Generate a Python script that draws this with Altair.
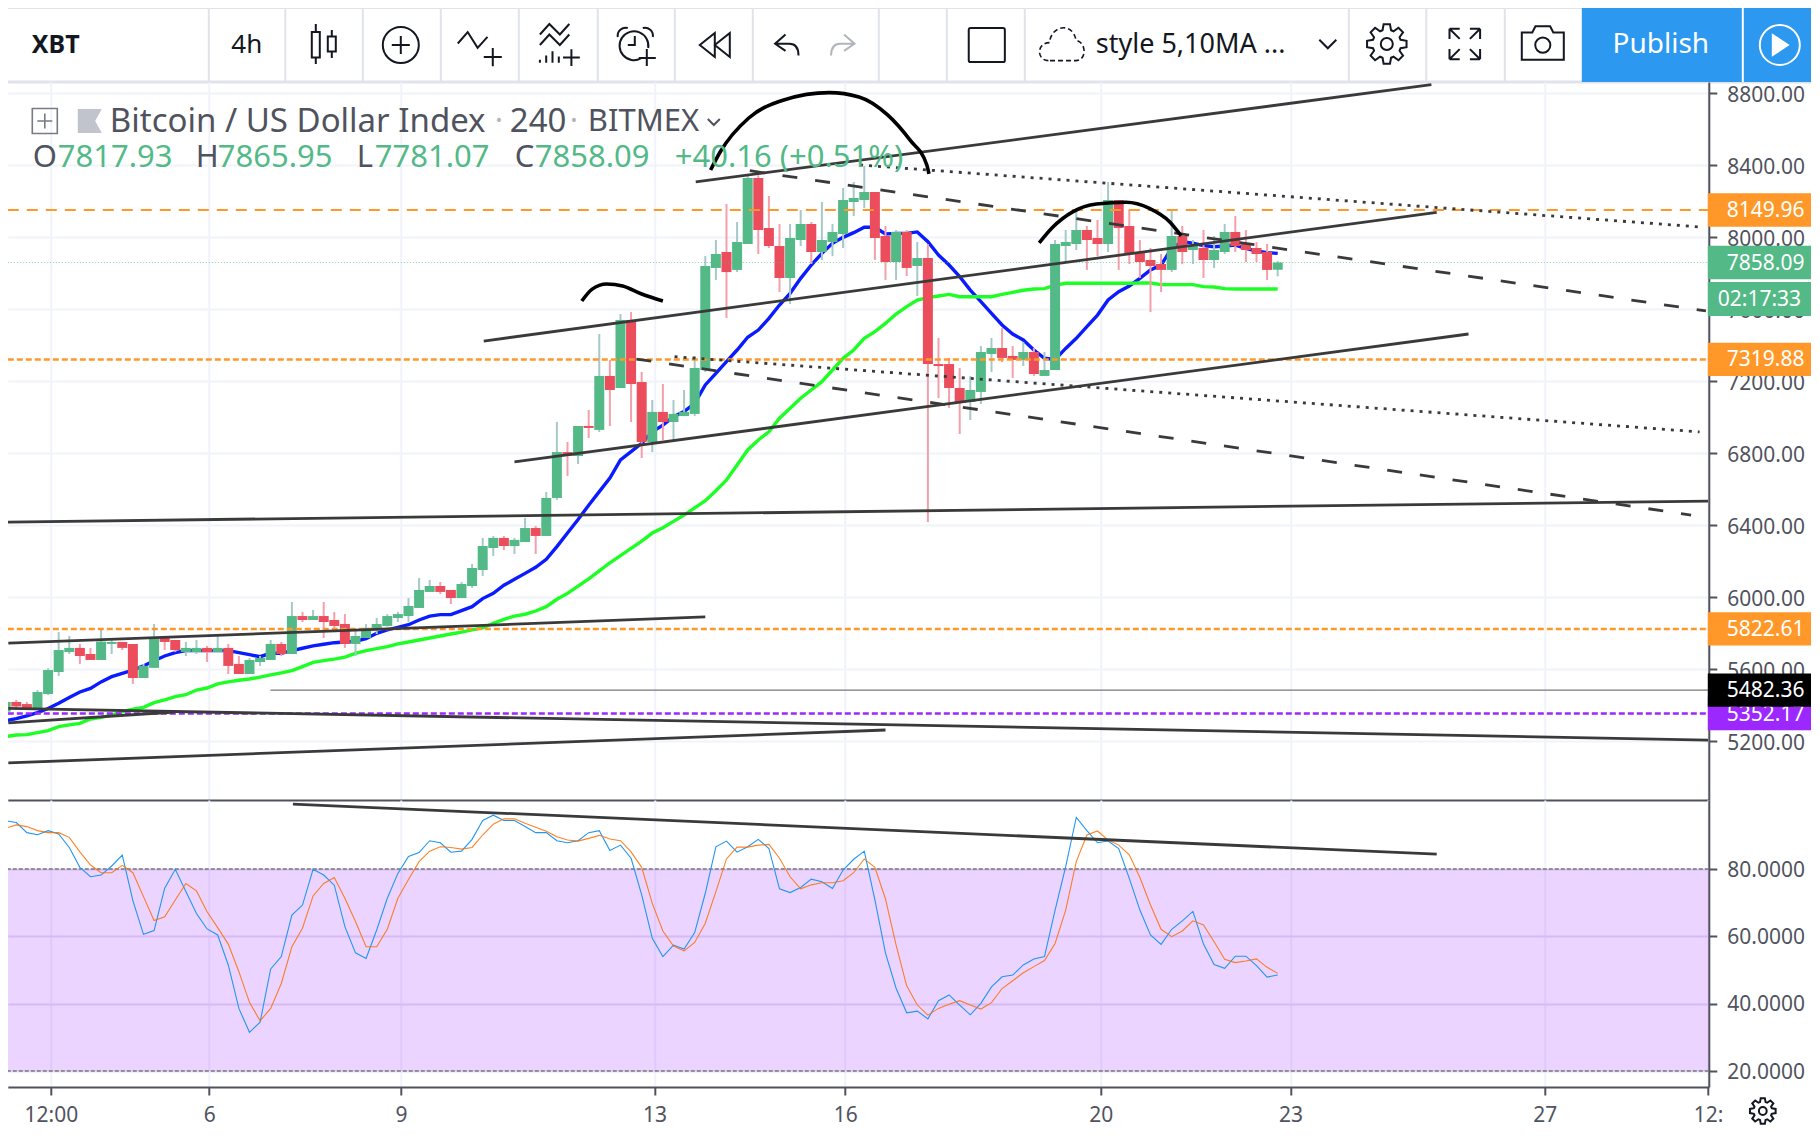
import math
import altair as alt
import pandas as pd

FONT = "Noto Sans"
INK = "#131722"
TXT = "#50535e"
UP = "#53b987"
DOWN = "#eb4d5c"

# ---- candles, first bar index -19 (day "6" sits at index 0)
first_bar = -19
opens = [5363,5417,5405,5383,5461,5583,5694,5717,5683,5650,
 5739,5750,5739,5550,5606,5772,5761,5694,5694,5717,
 5694,5717,5628,5572,5639,5650,5739,5683,5894,5872,
 5894,5872,5850,5739,5772,5817,5839,5883,5894,5939,
 6028,6061,6039,5994,6061,6150,6272,6328,6283,6305,
 6383,6339,6550,6805,6783,6950,6928,7228,7161,7539,
 7194,6861,7028,6972,7005,7017,7261,7828,7917,7817,
 7961,8328,8050,7950,7772,7983,8072,7917,7972,8017,
 8194,8206,8250,8005,7861,8028,7839,7883,7294,7294,
 7161,7083,7139,7350,7383,7339,7317,7361,7228,7261,
 7950,7961,8039,7994,7961,8206,8061,7917,7872,7850,
 7817,8005,7928,7939,7872,7917,8028,7961,7939,7917,7817.93]
closes = [5417,5391,5383,5472,5594,5705,5717,5672,5650,5752,
 5750,5717,5550,5617,5772,5750,5705,5717,5717,5694,
 5717,5617,5572,5650,5661,5739,5683,5894,5872,5894,
 5861,5839,5739,5783,5828,5850,5894,5905,5950,6039,
 6061,6028,5994,6072,6161,6283,6328,6283,6317,6383,
 6339,6550,6805,6783,6950,6939,7228,7150,7539,7183,
 6861,7028,6972,7017,7028,7272,7839,7905,7805,7972,
 8328,8039,7950,7772,7994,8072,7917,7983,8028,8206,
 8217,8250,7994,7861,8028,7828,7883,7294,7283,7161,
 7083,7150,7361,7383,7328,7317,7361,7239,7261,7961,
 7972,8039,7983,7961,8206,8050,7905,7861,7839,7817,
 8005,7917,7950,7872,7928,8028,7950,7928,7905,7817,7858.09]
highs = [5428,5428,5417,5483,5604,5805,5783,5739,5717,5828,
 5772,5750,5739,5628,5850,5783,5761,5750,5761,5728,
 5783,5739,5672,5661,5672,5761,5750,5972,5917,5928,
 5972,5917,5905,5817,5850,5883,5905,5917,5994,6105,
 6094,6083,6039,6083,6183,6328,6339,6339,6328,6439,
 6394,6583,6972,6861,6950,7039,7461,7317,7572,7583,
 7250,7094,7183,7094,7150,7339,7894,7983,8183,8083,
 8340,8343,8228,8072,8072,8150,8083,8194,8072,8272,
 8306,8394,8250,8061,8039,8039,7972,7961,7439,7328,
 7272,7228,7394,7439,7494,7394,7417,7383,7361,7983,
 8039,8161,8061,8094,8306,8206,8150,7983,7939,7905,
 8150,8061,7983,8039,8005,8072,8117,8039,7972,7961,7865.95]
lows = [5354,5372,5372,5372,5455,5561,5683,5628,5650,5650,
 5683,5705,5517,5550,5606,5705,5694,5672,5683,5639,
 5694,5572,5572,5572,5617,5650,5672,5683,5861,5872,
 5772,5805,5717,5672,5772,5794,5835,5861,5861,5939,
 6028,6017,5961,5994,6050,6117,6228,6261,6239,6305,
 6239,6339,6539,6672,6739,6883,6916,6950,7161,6972,
 6772,6805,6872,6872,7005,7005,7250,7761,7550,7805,
 7961,7905,7939,7694,7628,7950,7850,7872,7894,7939,
 8117,8161,7872,7761,7761,7783,7672,6417,7105,7050,
 6905,6983,7072,7250,7305,7217,7283,7228,7228,7261,
 7861,7928,7817,7894,7917,7817,7850,7772,7583,7694,
 7805,7850,7850,7772,7828,7905,7917,7861,7861,7761,7781.07]
ma_blue = [5313,5324,5339,5357,5380,5409,5442,5472,5492,5528,
 5557,5576,5594,5617,5646,5672,5691,5702,5702,5702,
 5702,5702,5691,5680,5668,5687,5687,5702,5715,5728,
 5737,5746,5750,5754,5768,5798,5817,5831,5846,5872,
 5894,5902,5902,5924,5946,5991,6020,6065,6098,6131,
 6165,6209,6280,6355,6430,6510,6585,6661,6761,6807,
 6854,6918,6955,7002,7030,7076,7178,7242,7307,7372,
 7443,7483,7548,7622,7687,7770,7844,7909,7965,7998,
 8024,8054,8054,8017,8020,8020,8028,7974,7900,7844,
 7780,7705,7641,7576,7511,7461,7428,7372,7326,7320,
 7381,7437,7502,7566,7650,7696,7728,7770,7817,7844,
 7937,7974,7965,7952,7946,7950,7955,7937,7922,7913,7909]
ma_green = [5224,5233,5235,5246,5257,5280,5289,5298,5322,5331,
 5344,5363,5376,5387,5413,5428,5446,5457,5483,5494,
 5517,5528,5537,5544,5555,5567,5578,5591,5613,5637,
 5646,5655,5666,5687,5702,5713,5724,5739,5750,5761,
 5772,5783,5794,5805,5817,5828,5854,5876,5894,5904,
 5922,5946,5987,6020,6060,6100,6145,6190,6230,6270,
 6310,6355,6385,6420,6455,6495,6535,6590,6650,6733,
 6817,6872,6918,6993,7048,7104,7150,7196,7261,7326,
 7372,7437,7474,7520,7572,7613,7650,7663,7672,7681,
 7668,7668,7668,7668,7681,7692,7704,7711,7713,7733,
 7743,7743,7743,7743,7743,7743,7743,7744,7744,7735,
 7735,7735,7735,7724,7722,7713,7711,7711,7711,7711,7711]
stoch_k = [94.3,93.8,90.8,90.2,91.4,90.4,86.4,80.5,77.7,78.2,
 80.9,84.1,70.6,60.6,61.7,74.3,79.9,73.3,66.8,62.2,
 60.4,51.5,38.6,31.5,34.5,50.3,54.0,66.3,69.3,79.9,
 78.2,75.2,62.9,55.1,53.4,61.9,71.3,78.7,83.7,84.9,
 88.4,87.8,85.0,85.3,88.8,94.4,96.0,94.4,94.4,92.6,
 90.8,90.8,88.4,87.8,88.4,90.8,91.4,85.5,87.1,83.2,72.3,
 59.4,54,57.4,56.2,61.1,72.8,86.6,88.3,85,86.6,
 88.8,86.1,74.1,73,74.5,77,76.2,74.2,79.7,82.9,
 85.3,70.8,55,44.6,37.3,37.8,35.5,40.9,42.6,39.6,
 36.7,40.1,45,48,48.5,51.5,53.3,54,67.8,80.7,
 95.3,91.4,87.8,88.3,86.1,77.2,67.8,60.4,57.6,62.1,
 64.6,67.4,57.7,51.6,50.5,54.1,54.1,51.3,47.9,48.5]
stoch_d = [92.1,93.1,92.6,91.4,90.8,90.8,89.4,85.1,81.2,78.9,
 78.9,81.1,78.9,71.8,64.7,65.8,70.8,75.7,73.5,67.3,
 62.6,57.7,49.5,40.4,34.9,38.6,46,56.9,62.4,72,
 75.7,77.5,71.3,64.4,56.9,56.9,62.1,71.3,76.9,82.2,
 85.3,86.6,86.4,85.9,86.4,90.1,93.3,94.9,94.9,93.6,
 92.4,91.2,89.6,88.6,88.3,89.1,90,88.9,88.4,85.1,80.5,
 69.8,61.6,57.1,55.7,58.2,63.9,73.3,83,86.5,86.5,
 87.1,87.3,83.2,77.7,74.1,75.3,75.9,75.9,76.5,78.9,
 83,80.5,71.1,57.4,45.3,39.6,36.6,38.6,39.8,40.9,
 39.6,38.4,40.3,44.5,46.8,49.2,51,52.8,57.9,67.8,
 82.2,90.1,91.3,88.6,87.1,84.2,77.5,69.3,62.1,59.9,
 61.6,64.6,63.4,58.4,53.2,52.2,52.7,53.3,50.8,49]

# ---- drawings: (bar, price) end points
solid_lines = [
 [(46.1,8306),(115.5,8846)], [(26.1,7422),(116,8137)], [(29,6750),(119,7461)],
 [(-18.8,6416),(141.6,6533)], [(-18.75,5743),(47,5889)], [(-18.75,5381),(141.6,5205)],
 [(-18.75,5301),(-3.05,5361)], [(-18.75,5078),(64,5261)],
]
dashed_lines = [[(51.2,8368),(141.4,7589)], [(40.5,7322),(140,6455)]]
dotted_lines = [[(61.6,8400),(141,8055)], [(44.1,7335),(140.8,6917)]]
arcs = [
 [(47.5,8372),(48.4,8472),(51.1,8661),(54.4,8761),(58.7,8802),(61.5,8778),(64.2,8678),(66.3,8539),(67.9,8400),(68.1,8350)],
 [(35.35,7644),(36.3,7709),(37.7,7739),(39.2,7728),(41,7683),(43,7644)],
 [(78.5,7967),(79.7,8050),(81.7,8141),(83.9,8183),(86.7,8193),(88.9,8159),(90.8,8085),(91.9,8006)],
]
stoch_trend = [(8.1,99.3),(116,84.4)]

price_ticks = [5200 + 400*i for i in range(10)]
stoch_ticks = [20, 40, 60, 80]
time_ticks = [-14.74, 0.2, 18.3, 42.2, 60.2, 84.3, 102.2, 126.2, 141.6]
time_labels = ["12:00", "6", "9", "13", "16", "20", "23", "27", "12:"]
tags = [("8149.96", 8149.96, "#ff9828"), ("7858.09", 7858.09, UP), ("7319.88", 7319.88, "#ff9828"),
        ("5822.61", 5822.61, "#ff9828"), ("5352.17", 5352.17, "#9c27ff"), ("5482.36", 5482.36, "#000000")]

W = 1701
R = 1804
XD = [-18.8, 141.67]
xs = alt.Scale(domain=XD, nice=False, zero=False, padding=0)
ys = alt.Scale(domain=[4872, 8861], nice=False, zero=False)
ss = alt.Scale(domain=[15.25, 100.5], nice=False, zero=False)
PX = 5.556  # price per pixel, only for tag heights

bars = pd.DataFrame({"b": [first_bar+i for i in range(len(opens))], "o": opens, "h": highs, "l": lows, "c": closes,
                     "blue": ma_blue, "green": ma_green, "k": stoch_k, "d": stoch_d})
up = [c >= o for o, c in zip(opens, closes)]
bars["bc"] = [UP if u else DOWN for u in up]
bars["wc"] = ["#a5c9c7" if u else "#f3a0ab" for u in up]
bars["top"] = bars[["o", "c"]].max(axis=1)
bars["bot"] = bars[["o", "c"]].min(axis=1)

expr = "{" + ",".join(f"'{t}':'{l}'" for t, l in zip(time_ticks, time_labels)) + "}[datum.value] || ''"
x_top = alt.Axis(values=time_ticks, labels=False, ticks=False, grid=True, gridColor="#f0f3fa", gridWidth=2,
                 domainColor=TXT, domainWidth=2, title=None)
x_bot = alt.Axis(values=time_ticks, labelExpr=expr, grid=True, gridColor="#f0f3fa", gridWidth=2, domainColor=TXT,
                 domainWidth=2, tickColor=TXT, tickWidth=2, tickSize=8, labelFont=FONT, labelFontSize=21,
                 labelColor=TXT, labelPadding=10, labelFlush=False, labelOverlap=False, title=None)
y_axis = alt.Axis(orient="right", values=price_ticks, format=".2f", grid=True, gridColor="#f0f3fa", gridWidth=2,
                  domainColor=TXT, domainWidth=2, tickColor=TXT, tickWidth=2, tickSize=8, labelFont=FONT,
                  labelFontSize=21, labelColor=TXT, labelPadding=10, labelAlign="left", labelOverlap=False,
                  labelOffset=3, title=None)
s_axis = alt.Axis(orient="right", values=stoch_ticks, format=".4f", grid=True, gridColor="#e6e0f5", gridWidth=2,
                  domainColor=TXT, domainWidth=2, tickColor=TXT, tickWidth=2, tickSize=8, labelFont=FONT,
                  labelFontSize=21, labelColor=TXT, labelPadding=10, labelAlign="left", labelOverlap=False,
                  labelOffset=1, title=None)

X = alt.X("b:Q", scale=xs, axis=x_top)
X2 = alt.X("b:Q", scale=xs, axis=x_bot)
Yp = lambda f: alt.Y(f, scale=ys, axis=y_axis)
Ys = lambda f: alt.Y(f, scale=ss, axis=s_axis)


def text(s, x, y, size, color, align="left", weight="normal"):
    return alt.Chart(pd.DataFrame({"t": [s]})).mark_text(align=align, baseline="middle", font=FONT, fontSize=size,
                                                        color=color, fontWeight=weight).encode(
        x=alt.value(x), y=alt.value(y), text="t:N")


def icon(path, x, y, half, color=INK, width=2, fill=None, dash=None):
    kw = dict(shape=path, size=(2*half)**2, stroke=color, strokeWidth=width, opacity=1)
    kw.update(filled=True, fill=fill) if fill else kw.update(filled=False)
    if dash:
        kw["strokeDash"] = dash
    return alt.Chart(pd.DataFrame({"i": [0]})).mark_point(**kw).encode(x=alt.value(x), y=alt.value(y))


def vsep(x, y1=0, y2=74, color="#e0e3eb", width=2):
    return alt.Chart(pd.DataFrame({"i": [0]})).mark_rule(color=color, strokeWidth=width).encode(
        x=alt.value(x), y=alt.value(y1), y2=alt.value(y2))


def rect(x1, x2, y1, y2, color):
    return alt.Chart(pd.DataFrame({"i": [0]})).mark_rect(color=color).encode(
        x=alt.value(x1), x2=alt.value(x2), y=alt.value(y1), y2=alt.value(y2))


CIRC = "M-1,0A1,1 0 1 1 1,0A1,1 0 1 1 -1,0Z"


def gear_path():
    pts = []
    for k in range(8):
        a0 = k*math.pi/4
        for da, r in [(-0.30, 0.72), (-0.16, 1.0), (0.16, 1.0), (0.30, 0.72)]:
            pts.append((r*math.cos(a0+da), r*math.sin(a0+da)))
    d = "M" + "L".join(f"{px:.3f},{py:.3f}" for px, py in pts) + "Z"
    r = 0.3
    return d + f"M{-r},0A{r},{r} 0 1 1 {r},0A{r},{r} 0 1 1 {-r},0Z"


CANDLE = ("M-.6,-.6L-.2,-.6L-.2,.67L-.6,.67ZM-.4,-1L-.4,-.6M-.4,.67L-.4,1"
          "M.2,-.375L.6,-.375L.6,.375L.2,.375ZM.4,-.7L.4,-.375M.4,.375L.4,.7")
PLUSC = CIRC + "M-.5,0L.5,0M0,-.5L0,.5"
WAVE = "M-1,-.25L-.55,-.77L-.1,-.05L.35,-.55M.59,-.05L.59,.78M.18,.36L1,.36"
INDIC = ("M-.9,-.5L-.45,-1L.05,-.5L.5,-1M-.9,0L-.45,-.5L.05,0L.5,-.5M-.9,.85L-.9,.7M-.6,.85L-.6,.5M-.3,.85L-.3,.3"
         "M0,.85L0,.55M.6,.2L.6,1M.2,.6L1,.6")
ALARM = ("M.25,.62A.72,.72 0 1 1 .62,.1M-.05,-.5L-.05,-.05L-.4,-.05M-.9,-.45A.4,.4 0 0 1 -.4,-.9M.35,-.9A.4,.4 0 0 1 .85,-.45"
         "M.55,.15L.55,1M.15,.6L1,.6")
REW = "M0,-.8L-1,0L0,.8ZM1,-.8L0,0L1,.8Z"
UNDO = "M-.1,-.8L-.9,-.1L-.1,.45M-.9,-.1L.2,-.1Q.9,-.1 .9,.8"
REDO = "M.1,-.8L.9,-.1L.1,.45M.9,-.1L-.2,-.1Q-.9,-.1 -.9,.8"
SQUARE = "M-.85,-.9L.85,-.9Q.95,-.9 .95,-.8L.95,.8Q.95,.9 .85,.9L-.85,.9Q-.95,.9 -.95,.8L-.95,-.8Q-.95,-.9 -.85,-.9Z"
CLOUD = "M-.6,.65C-1.1,.65 -1.1,-.1 -.55,-.1C-.5,-.8 .4,-1 .55,-.2C1,-.1 1,.65 .55,.65Z"
CHEV = "M-1,-.5L0,.5L1,-.5"
FULLS = ("M-.9,-.9L-.3,-.9M-.9,-.9L-.9,-.3M-.9,-.9L-.3,-.3M.9,-.9L.3,-.9M.9,-.9L.9,-.3M.9,-.9L.3,-.3"
         "M-.9,.9L-.3,.9M-.9,.9L-.9,.3M-.9,.9L-.3,.3M.9,.9L.3,.9M.9,.9L.9,.3M.9,.9L.3,.3")
CAM = "M-1,-.5L-.5,-.5L-.35,-.8L.35,-.8L.5,-.5L1,-.5L1,.8L-1,.8ZM-.36,.1A.36,.36 0 1 1 .36,.1A.36,.36 0 1 1 -.36,.1Z"
TRI = "M-.7,-1L.8,0L-.7,1Z"

base = alt.Chart(pd.DataFrame({"i": [0]})).mark_rule(color="#e0e3eb", strokeWidth=3).encode(
    x=alt.value(0), x2=alt.value(R), y=alt.value(74))
topline = alt.Chart(pd.DataFrame({"i": [0]})).mark_rule(color="#c4c6cc", strokeWidth=1).encode(
    x=alt.value(0), x2=alt.value(R), y=alt.value(0))

toolbar = alt.layer(
    base, topline,
    *[vsep(x-8) for x in [209, 285.5, 363, 441, 519, 598, 675, 753, 879, 947, 1025, 1349, 1426.5, 1505]],
    rect(1574, R, 0, 74, "#2c98f0"), vsep(1735, color="#ffffff"),
    text("XBT", 24, 37, 25, INK, weight="bold"),
    text("4h", 239, 37, 26, INK, align="center"),
    icon(CANDLE, 316, 36, 20), icon(PLUSC, 393, 37, 18), icon(WAVE, 472, 41, 22), icon(INDIC, 551, 37, 21),
    icon(ALARM, 628, 38, 20), icon(REW, 707, 37, 15), icon(UNDO, 779, 37, 13), icon(REDO, 835, 37, 13, color="#b2b5be"),
    icon(SQUARE, 979, 37, 19), icon(CLOUD, 1055, 37, 24, width=1.6, dash=[5, 3]),
    text("style 5,10MA ...", 1088, 37, 27, INK),
    icon(CHEV, 1320, 36, 8.5), icon(gear_path(), 1379, 36, 20), icon(FULLS, 1457, 36, 17), icon(CAM, 1535, 35, 21),
    text("Publish", 1653, 37, 28, "#ffffff", align="center"),
    icon(CIRC, 1772, 37, 20, color="#ffffff"), icon(TRI, 1772, 37, 10, color="#ffffff", fill="#ffffff"),
).properties(width=W, height=74)

# ---- price pane
ma1 = alt.Chart(bars).mark_line(color="#0a1cff", strokeWidth=3.4, clip=True).encode(x=X, y=Yp("blue:Q"))
ma2 = alt.Chart(bars).mark_line(color="#1dff24", strokeWidth=3.4, clip=True).encode(x=X, y=Yp("green:Q"))
wicks = alt.Chart(bars).mark_rule(strokeWidth=2, clip=True).encode(
    x=X, y=Yp("h:Q"), y2="l:Q", color=alt.Color("wc:N", legend=None, scale=None))
bodies = alt.Chart(bars).mark_bar(size=10, orient="vertical", clip=True).encode(
    x=X, y=Yp("top:Q"), y2="bot:Q", color=alt.Color("bc:N", legend=None, scale=None))


def hline(p, color, width, dash, op=1.0, start=None):
    df = pd.DataFrame({"p": [p], "b": [XD[0] if start is None else start], "b2": [XD[1]]})
    return alt.Chart(df).mark_rule(color=color, strokeWidth=width, strokeDash=dash, opacity=op).encode(
        x=X, x2="b2:Q", y=Yp("p:Q"))


def poly(lines, color, width, dash=None, interp="linear"):
    rows = [{"g": g, "n": n, "b": b, "p": p} for g, ln in enumerate(lines) for n, (b, p) in enumerate(ln)]
    kw = dict(color=color, strokeWidth=width, clip=True, interpolate=interp)
    if dash:
        kw["strokeDash"] = dash
    return alt.Chart(pd.DataFrame(rows)).mark_line(**kw).encode(x=X, y=Yp("p:Q"), detail="g:N", order="n:Q")


tag_df = pd.DataFrame({"t": [t[0] for t in tags], "p": [t[1] for t in tags], "c": [t[2] for t in tags]})
tag_df["p1"] = tag_df.p + 16.7*PX
tag_df["p2"] = tag_df.p - 16.7*PX
tag_layers = []
for _, r in tag_df.iterrows():
    one = pd.DataFrame([r])
    tag_layers.append(alt.Chart(one).mark_rect(color=r.c).encode(
        x=alt.value(W-1), x2=alt.value(R), y=Yp("p1:Q"), y2="p2:Q"))
    tag_layers.append(alt.Chart(one).mark_text(align="left", baseline="middle", font=FONT, fontSize=21, dy=1,
                                               color="#ffffff").encode(x=alt.value(1719), y=Yp("p:Q"), text="t:N"))

price = alt.layer(
    ma1, ma2, wicks, bodies,
    hline(8149.96, "#ff9828", 2, [11, 8]),
    hline(7858.09, UP, 1, [1, 2], 0.7),
    hline(7319.88, "#ff9828", 2.5, [6, 3]),
    hline(5822.61, "#ff9828", 2.5, [6, 3]),
    hline(5352.17, "#9c27ff", 2.5, [6, 3]),
    hline(5482.36, "#787878", 1.2, [1, 0], start=5.98),
    poly(solid_lines, "#3a3a3a", 2.8),
    poly(dashed_lines, "#3a3a3a", 2.8, [15, 18]),
    poly(dotted_lines, "#3a3a3a", 2.8, [3, 6]),
    poly(arcs, "#000000", 3.6, interp="monotone"),
    *tag_layers,
    rect(W-1, R, 200, 234, UP),
    text("02:17:33", 1710, 218, 21, "#ffffff"),
    icon("M-1,-1L1,-1L1,1L-1,1ZM-.6,0L.6,0M0,-.6L0,.6", 37, 39, 12.5, color="#787b86", width=1.6),
    icon("M-1,-1L1,-1L.45,0L1,1L-1,1Z", 82, 39, 12, color="#c1c4cd", width=0, fill="#c1c4cd"),
    text("Bitcoin / US Dollar Index", 102, 40, 33, TXT),
    text("·", 487, 40, 31, "#b2b5be"),
    text("240", 502, 40, 33, TXT),
    text("·", 562, 40, 31, "#b2b5be"),
    text("BITMEX", 580, 40, 31, TXT),
    icon(CHEV, 706, 40, 6, color=TXT),
    text("O", 25, 76, 31, TXT), text("7817.93", 50, 76, 31, UP),
    text("H", 188, 76, 31, TXT), text("7865.95", 210, 76, 31, UP),
    text("L", 349, 76, 31, TXT), text("7781.07", 367, 76, 31, UP),
    text("C", 507, 76, 31, TXT), text("7858.09", 527, 76, 31, UP),
    text("+40.16 (+0.51%)", 667, 76, 31, UP),
).properties(width=W, height=718)

# ---- stochastic pane
band = alt.Chart(pd.DataFrame({"a": [20], "z": [80]})).mark_rect(color="#9c27ff", opacity=0.2).encode(
    y=Ys("z:Q"), y2="a:Q", x=alt.value(0), x2=alt.value(W))
lvl = alt.Chart(pd.DataFrame({"v": [20, 80]})).mark_rule(color="#787878", strokeWidth=1.5, strokeDash=[4, 2]).encode(y=Ys("v:Q"))
kline = alt.Chart(bars).mark_line(color="#2196f3", strokeWidth=1.1, clip=True).encode(x=X2, y=Ys("k:Q"))
dline = alt.Chart(bars).mark_line(color="#ff6d00", strokeWidth=1.1, clip=True, opacity=0.85).encode(x=X2, y=Ys("d:Q"))
tline = alt.Chart(pd.DataFrame({"b": [stoch_trend[0][0], stoch_trend[1][0]], "v": [stoch_trend[0][1], stoch_trend[1][1]]})).mark_line(
    color="#3a3a3a", strokeWidth=2.8, clip=True).encode(x=X2, y=Ys("v:Q"))
stoch = alt.layer(
    band, lvl, kline, dline, tline,
    icon(gear_path(), 1755, 311, 13),
).properties(width=W, height=287)

chart = alt.vconcat(toolbar, price, stoch, spacing=0, bounds="flush").properties(
    padding={"left": -2.2, "top": -1, "right": -2.5, "bottom": 0}).configure_view(strokeWidth=0)
chart.save("out.html", embed_options={"renderer": "svg", "actions": False})
